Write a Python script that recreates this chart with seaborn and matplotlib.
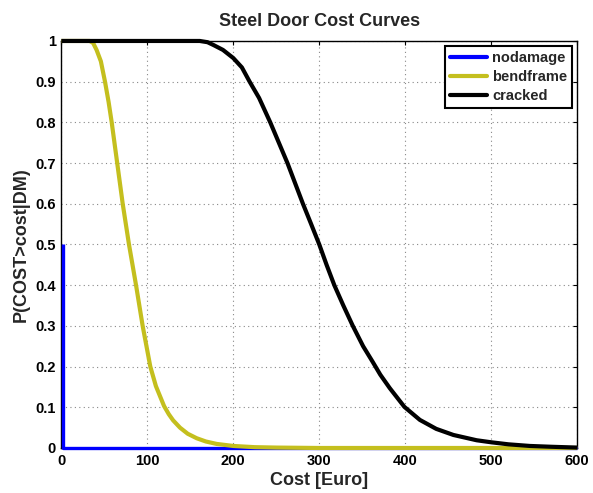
import matplotlib
matplotlib.use("Agg")
import matplotlib.pyplot as plt
import seaborn as sns
import pandas as pd

# ---- data ----
nodamage_x = [2, 2, 600]
nodamage_y = [0.5, 0.0, 0.0]

bendframe_x = [0, 33, 37, 41, 46, 50.8, 55, 58.6, 65, 71.4, 78.7, 86.9, 94.6, 103.5, 110, 119.5,
               125, 130, 138, 147, 157.4, 168, 180.6, 200, 225, 250, 300, 600]
bendframe_y = [1.0, 1.0, 0.995, 0.978, 0.95, 0.9, 0.85, 0.8, 0.7, 0.6, 0.5, 0.4, 0.3, 0.2, 0.152, 0.103,
               0.083, 0.068, 0.05, 0.035, 0.024, 0.016, 0.01, 0.005, 0.002, 0.001, 0.0, 0.0]

cracked_x = [0, 161, 170, 177, 188, 200, 210, 219, 230, 243, 253, 263, 272, 281, 290, 300, 308.5, 317.5,
             328, 339, 351, 362, 371, 382, 399, 417, 436, 456, 483, 500, 520, 545, 570, 600]
cracked_y = [1.0, 1.0, 0.997, 0.99, 0.978, 0.958, 0.935, 0.9, 0.86, 0.8, 0.75, 0.7, 0.65, 0.6, 0.553,
             0.5, 0.45, 0.4, 0.35, 0.3, 0.25, 0.212, 0.18, 0.147, 0.101, 0.069, 0.047, 0.032, 0.019,
             0.014, 0.009, 0.005, 0.003, 0.001]

series_names = ["nodamage", "bendframe", "cracked"]
series_colors = ["#0000ff", "#c4bf1e", "#000000"]

title = "Steel Door Cost Curves"
xlabel = "Cost [Euro]"
ylabel = "P(COST>cost|DM)"
xticks = [0, 100, 200, 300, 400, 500, 600]
yticks = [0, 0.1, 0.2, 0.3, 0.4, 0.5, 0.6, 0.7, 0.8, 0.9, 1]
ytick_labels = ["0", "0.1", "0.2", "0.3", "0.4", "0.5", "0.6", "0.7", "0.8", "0.9", "1"]

frames = []
for name, xs, ys in zip(series_names,
                        [nodamage_x, bendframe_x, cracked_x],
                        [nodamage_y, bendframe_y, cracked_y]):
    frames.append(pd.DataFrame({"cost": xs, "p": ys, "DM": name}))
df = pd.concat(frames, ignore_index=True)

sns.set_style("white")
plt.rcParams["font.family"] = ["Liberation Sans", "DejaVu Sans"]
plt.rcParams["font.weight"] = "bold"

fig = plt.figure(figsize=(5.93, 4.93), dpi=100)
ax = fig.add_axes([0.1034, 0.0913, 0.870, 0.8256])

sns.lineplot(data=df, x="cost", y="p", hue="DM", hue_order=series_names,
             palette=dict(zip(series_names, series_colors)),
             units="DM", estimator=None, sort=False, linewidth=3.0, ax=ax)
lines = ax.get_lines()
for i, ln in enumerate(lines[:3]):
    ln.set_solid_joinstyle("round")
    ln.set_solid_capstyle("butt")
    ln.set_zorder(3 + i)
    ln.set_clip_on(False)
lines[0].set_linewidth(2.4)

ax.set_xlim(0, 600)
ax.set_ylim(0, 1)
ax.set_xticks(xticks)
ax.set_xticklabels([str(t) for t in xticks])
ax.set_yticks(yticks)
ax.set_yticklabels(ytick_labels)
ax.grid(True, linestyle=(0, (1, 3)), color="#888888", linewidth=0.8)
ax.tick_params(direction="in", length=3, width=0.8, top=True, right=True,
               labelsize=10.5, pad=4, colors="black")
for lab in ax.get_xticklabels() + ax.get_yticklabels():
    lab.set_fontweight("bold")
for s in ax.spines.values():
    s.set_visible(True)
    s.set_color("black")
    s.set_linewidth(1.0)

ax.set_title(title, fontsize=13, fontweight="bold", pad=11)
ax.set_xlabel(xlabel, fontsize=13, fontweight="bold", labelpad=3)
ax.set_ylabel(ylabel, fontsize=13, fontweight="bold", labelpad=4)

leg = ax.legend(loc="upper right", fontsize=10.5, frameon=True, fancybox=False,
                edgecolor="black", framealpha=1, handlelength=2.5,
                handletextpad=0.35, labelspacing=0.35, borderaxespad=0.35,
                borderpad=0.35, title=None)
leg.set_zorder(10)
leg.get_frame().set_linewidth(1.5)
for t in leg.get_texts():
    t.set_fontweight("bold")
for h in leg.get_lines():
    h.set_linewidth(3.0)

fig.savefig("out.png", dpi=100)
